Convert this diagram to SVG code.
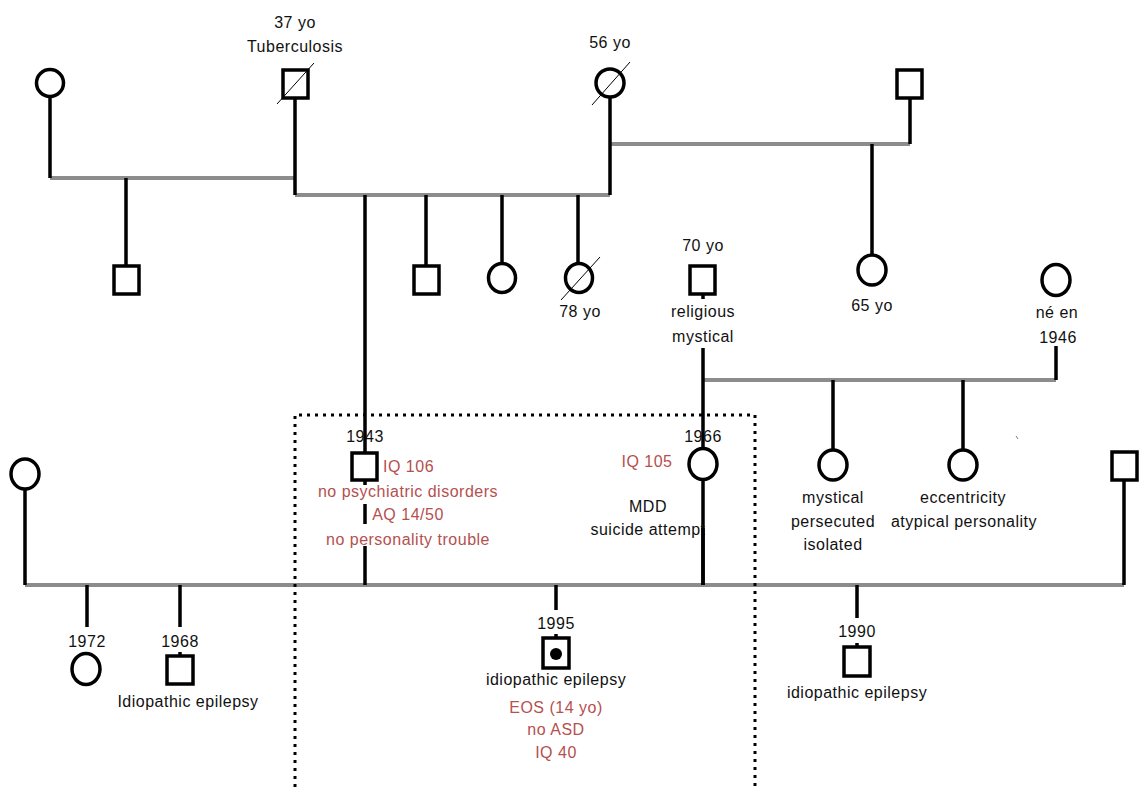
<svg xmlns="http://www.w3.org/2000/svg" width="1139" height="787" viewBox="0 0 1139 787">
<style>
text{font-family:"Liberation Sans",Arial,sans-serif;font-size:16px;letter-spacing:0.5px;fill:#111;text-anchor:middle}
.r{fill:#b5504e}
.st{text-anchor:start}
.v{stroke:#000;stroke-width:3.5;fill:none}
.h{stroke:#8c8c8c;stroke-width:4;fill:none}
.sh{stroke:#000;stroke-width:3.5;fill:#fff}
.d{stroke:#000;stroke-width:1;fill:none}
.dot{stroke:#000;stroke-width:3;fill:none;stroke-dasharray:3 5}
</style>
<rect width="1139" height="787" fill="#fff"/>
<g id="connectors">
<path class="h" d="M50,178H295 M295,195H610 M610,144H910 M703,380H1056 M25,585H1124"/>
<path class="v" d="M50,96V178 M126,178V266 M295,98V195 M365,195V453 M426,195V265 M502,195V263 M578,195V263 M610,97V195 M910,98V144 M872,144V256"/>
<path class="v" d="M703,295V299 M703,348V448 M1056,346V380 M833,380V450 M963,380V450"/>
<path class="v" d="M365,480V485 M365,504V524 M365,546V585 M703,480V585 M25,489V585 M1124,480V585"/>
<path class="v" d="M87,585V627 M180,585V627 M180,652V656 M556,585V610 M556,634V638 M857,585V618 M857,643V647"/>
</g>
<path id="box" class="dot" d="M295,787V415H755V787"/>
<g id="n-gf1"><circle class="sh" cx="50" cy="83" r="13.5"/></g>
<g id="n-gf2"><rect class="sh" x="283" y="70" width="25" height="28"/><line class="d" x1="277" y1="104" x2="314" y2="63"/><text x="295" y="28">37 yo</text><text x="295" y="52">Tuberculosis</text></g>
<g id="n-gm"><circle class="sh" cx="610" cy="83" r="14"/><line class="d" x1="592" y1="105" x2="630" y2="62"/><text x="610" y="48">56 yo</text></g>
<g id="n-gm2"><rect class="sh" x="897" y="70" width="25" height="28"/></g>
<g id="n-u1"><rect class="sh" x="114" y="266" width="25" height="28"/></g>
<g id="n-u2"><rect class="sh" x="414" y="266" width="25" height="28"/></g>
<g id="n-a1"><ellipse class="sh" cx="502" cy="278" rx="13.5" ry="14.5"/></g>
<g id="n-a2"><ellipse class="sh" cx="579" cy="278" rx="13.5" ry="14.5"/><line class="d" x1="561" y1="300" x2="600" y2="257"/><text x="580" y="317">78 yo</text></g>
<g id="n-a3"><ellipse class="sh" cx="872" cy="270" rx="14" ry="15"/><text x="872" y="311">65 yo</text></g>
<g id="n-mgf"><rect class="sh" x="690" y="266" width="25" height="28"/><text x="703" y="251">70 yo</text><text x="703" y="317">religious</text><text x="703" y="342">mystical</text></g>
<g id="n-mgm"><ellipse class="sh" cx="1056" cy="280" rx="14" ry="15.5"/><text x="1057" y="318">né en</text><text x="1058" y="343">1946</text></g>
<g id="n-mt1"><ellipse class="sh" cx="833" cy="465" rx="14" ry="15"/><text x="833" y="503">mystical</text><text x="833" y="527">persecuted</text><text x="833" y="550">isolated</text></g>
<g id="n-mt2"><ellipse class="sh" cx="963" cy="465" rx="14" ry="15"/><text x="963" y="503">eccentricity</text><text x="964" y="527">atypical personality</text></g>
<line x1="1016" y1="436" x2="1018" y2="439" stroke="#777" stroke-width="1"/>
<g id="n-f0"><ellipse class="sh" cx="25" cy="474" rx="14" ry="15"/></g>
<g id="n-f2"><rect class="sh" x="1112" y="452" width="25" height="28"/></g>
<g id="n-father"><rect class="sh" x="352" y="453" width="25" height="27"/><text x="365" y="442">1943</text><text class="r st" x="383" y="472">IQ 106</text><text class="r" x="408" y="497">no psychiatric disorders</text><text class="r" x="408" y="520">AQ 14/50</text><text class="r" x="408" y="545">no personality trouble</text></g>
<g id="n-mother"><ellipse class="sh" cx="703" cy="464" rx="14" ry="15.5"/><text x="703" y="442">1966</text><text class="r" x="647" y="467">IQ 105</text><text x="648" y="512">MDD</text><text x="648" y="535">suicide attempt</text></g>
<path class="v" d="M703,528V585"/>
<g id="n-s1"><ellipse class="sh" cx="86" cy="669" rx="14" ry="15.5"/><text x="87" y="647">1972</text></g>
<g id="n-s2"><rect class="sh" x="167" y="656" width="26" height="28"/><text x="180" y="647">1968</text><text x="188" y="707">Idiopathic epilepsy</text></g>
<g id="n-proband"><rect class="sh" x="543" y="638" width="26" height="30"/><circle cx="556" cy="654" r="6" fill="#000"/><text x="556" y="629">1995</text><text x="556" y="685">idiopathic epilepsy</text><text class="r" x="556" y="713">EOS (14 yo)</text><text class="r" x="556" y="735">no ASD</text><text class="r" x="556" y="758">IQ 40</text></g>
<g id="n-hs"><rect class="sh" x="844" y="647" width="26" height="29"/><text x="857" y="637">1990</text><text x="857" y="698">idiopathic epilepsy</text></g>
</svg>
